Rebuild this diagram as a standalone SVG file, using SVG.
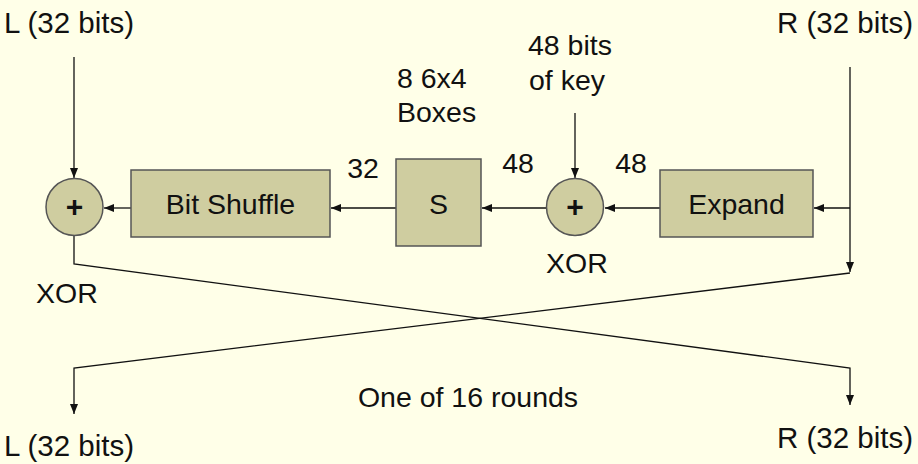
<svg xmlns="http://www.w3.org/2000/svg" width="918" height="464" viewBox="0 0 918 464">
<defs>
<marker id="ah" viewBox="0 0 10 10" refX="10" refY="5" markerWidth="10" markerHeight="10" markerUnits="userSpaceOnUse" orient="auto">
<path d="M0,1 L10,5 L0,9 z" fill="#111"/>
</marker>
</defs>
<style>
.box{fill:#CFCDA0;stroke:#555;stroke-width:1.5}
.t{font-family:"Liberation Sans",Arial,sans-serif;fill:#111;font-size:28.5px}
.big{font-size:29.5px}
.plus{font-size:30px;font-weight:bold}
.c{stroke:#111;stroke-width:1.3;fill:none}
</style>
<rect x="0" y="0" width="918" height="464" fill="#FFFFE8"/>
<g id="connectors">
<line class="c" x1="74" y1="57" x2="74" y2="178" marker-end="url(#ah)"/>
<line class="c" x1="575" y1="113" x2="575" y2="178" marker-end="url(#ah)"/>
<line class="c" x1="850" y1="67" x2="850" y2="272" marker-end="url(#ah)"/>
<line class="c" x1="850" y1="208" x2="814" y2="208" marker-end="url(#ah)"/>
<line class="c" x1="660" y1="208" x2="605" y2="208" marker-end="url(#ah)"/>
<line class="c" x1="546" y1="208" x2="482" y2="208" marker-end="url(#ah)"/>
<line class="c" x1="396" y1="208" x2="331" y2="208" marker-end="url(#ah)"/>
<line class="c" x1="131" y1="208" x2="104" y2="208" marker-end="url(#ah)"/>
<polyline class="c" points="74,235 74,264 850,368 850,405" marker-end="url(#ah)"/>
<polyline class="c" points="850,273 74,368 74,414" marker-end="url(#ah)"/>
</g>
<g id="xor1">
<circle class="box" cx="74.5" cy="207" r="28.5"/>
<text class="t plus" x="74.5" y="217" text-anchor="middle">+</text>
</g>
<g id="bitshuffle">
<rect class="box" x="131" y="170" width="199" height="67"/>
<text class="t" x="230.5" y="214" text-anchor="middle">Bit Shuffle</text>
</g>
<g id="sbox">
<rect class="box" x="396" y="159" width="85" height="87"/>
<text class="t" x="438.5" y="214" text-anchor="middle">S</text>
</g>
<g id="xor2">
<circle class="box" cx="575" cy="207" r="28.5"/>
<text class="t plus" x="575" y="217" text-anchor="middle">+</text>
</g>
<g id="expand">
<rect class="box" x="660" y="170" width="153" height="67"/>
<text class="t" x="736.5" y="214" text-anchor="middle">Expand</text>
</g>
<g id="labels">
<text class="t big" x="4" y="33">L (32 bits)</text>
<text class="t big" x="913" y="33" text-anchor="end">R (32 bits)</text>
<text class="t" x="570" y="55" text-anchor="middle">48 bits</text>
<text class="t" x="567" y="90" text-anchor="middle">of key</text>
<text class="t" x="397" y="88">8 6x4</text>
<text class="t" x="397" y="122">Boxes</text>
<text class="t" x="363" y="178" text-anchor="middle">32</text>
<text class="t" x="518" y="173" text-anchor="middle">48</text>
<text class="t" x="631" y="173" text-anchor="middle">48</text>
<text class="t" x="67" y="303" text-anchor="middle">XOR</text>
<text class="t" x="577" y="273" text-anchor="middle">XOR</text>
<text class="t" x="468" y="407" text-anchor="middle">One of 16 rounds</text>
<text class="t big" x="4" y="456">L (32 bits)</text>
<text class="t big" x="913" y="448" text-anchor="end">R (32 bits)</text>
</g>
</svg>
